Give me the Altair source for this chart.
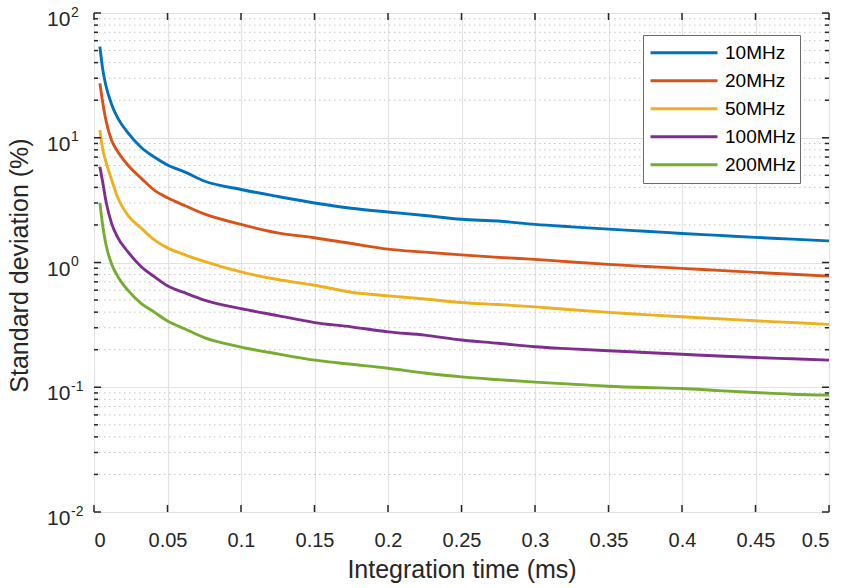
import altair as alt
import pandas as pd

# Integration time (ms) shared by every series
t_ms = [0.004, 0.006, 0.008, 0.012, 0.016, 0.023, 0.032, 0.041, 0.05, 0.062, 0.075,
        0.1, 0.125, 0.15, 0.175, 0.2, 0.225, 0.25, 0.275, 0.3, 0.325, 0.35, 0.375,
        0.4, 0.425, 0.45, 0.475, 0.5]

# Standard deviation (%) per sampling bandwidth
sd_10mhz = [53.7, 35, 26.5, 18.5, 14.5, 11.0, 8.4, 7.0, 6.05, 5.3, 4.5, 3.85, 3.38, 3.0,
            2.72, 2.54, 2.38, 2.22, 2.15, 2.02, 1.93, 1.85, 1.78, 1.71, 1.65, 1.59, 1.54, 1.49]
sd_20mhz = [27.3, 19.0, 14.0, 9.5, 7.8, 6.05, 4.75, 3.8, 3.3, 2.85, 2.45, 2.02, 1.73, 1.58,
            1.42, 1.28, 1.21, 1.15, 1.10, 1.06, 1.01, 0.966, 0.93, 0.898, 0.865, 0.834, 0.805, 0.778]
sd_50mhz = [11.5, 8.0, 6.5, 4.6, 3.35, 2.4, 1.89, 1.52, 1.31, 1.15, 1.02, 0.84, 0.73, 0.657,
            0.578, 0.54, 0.51, 0.478, 0.46, 0.441, 0.418, 0.398, 0.382, 0.367, 0.354, 0.341, 0.33, 0.319]
sd_100mhz = [5.85, 4.35, 3.15, 2.05, 1.6, 1.22, 0.93, 0.77, 0.65, 0.57, 0.50, 0.427, 0.375, 0.33,
             0.305, 0.278, 0.262, 0.239, 0.225, 0.211, 0.203, 0.196, 0.19, 0.184, 0.178, 0.173, 0.169, 0.165]
sd_200mhz = [3.01, 1.95, 1.42, 0.97, 0.78, 0.60, 0.47, 0.40, 0.34, 0.293, 0.25, 0.21, 0.185, 0.165,
             0.153, 0.142, 0.130, 0.121, 0.115, 0.110, 0.106, 0.102, 0.0995, 0.0978, 0.094, 0.0908, 0.088, 0.0864]

series_names = ["10MHz", "20MHz", "50MHz", "100MHz", "200MHz"]
series_values = [sd_10mhz, sd_20mhz, sd_50mhz, sd_100mhz, sd_200mhz]
series_colors = ["#0072BD", "#D95319", "#EDB120", "#7E2F8E", "#77AC30"]

# Axis ticks
x_ticks = [0, 0.05, 0.1, 0.15, 0.2, 0.25, 0.3, 0.35, 0.4, 0.45, 0.5]
y_decades = [0.01, 0.1, 1, 10, 100]
y_exponents = ["-2", "-1", "0", "1", "2"]
y_minor = [m * d for d in [0.01, 0.1, 1, 10] for m in range(2, 10)]

FONT = "Liberation Sans"
INK = "#262626"
W, H = 735, 499

rows = []
for name, vals in zip(series_names, series_values):
    for t, v in zip(t_ms, vals):
        rows.append({"t": t, "sd": v, "series": name})
df = pd.DataFrame(rows)

major_y = pd.DataFrame({"sd": y_decades, "base": ["10"] * len(y_decades), "exp": y_exponents})
minor_y = pd.DataFrame({"sd": y_minor})
major_x = pd.DataFrame({"t": x_ticks})

x_scale = alt.Scale(domain=[0, 0.5], nice=False, zero=False)
y_scale = alt.Scale(type="log", domain=[0.01, 100], nice=False)

minor_grid = alt.Chart(minor_y).mark_rule(
    color="#c4c4c4", strokeWidth=1, strokeDash=[1.5, 3.5]
).encode(y=alt.Y("sd:Q", scale=y_scale), x=alt.value(0), x2=alt.value(W))

lines = alt.Chart(df).mark_line(strokeWidth=2.9, clip=True, interpolate="monotone").encode(
    x=alt.X("t:Q", scale=x_scale,
            axis=alt.Axis(values=x_ticks, grid=True, gridColor="#e2e2e2", gridWidth=1.2,
                          ticks=False, domain=False,
                          labelExpr="format(datum.value, '~g')", labelFontSize=20,
                          labelFont=FONT, labelColor=INK, labelPadding=18,
                          title="Integration time (ms)", titleFontSize=25, titleFont=FONT,
                          titleFontWeight="normal", titleColor=INK,
                          titleY=65, titleBaseline="alphabetic")),
    y=alt.Y("sd:Q", scale=y_scale,
            axis=alt.Axis(values=y_decades, grid=True, gridColor="#e2e2e2", gridWidth=1.2,
                          ticks=False, domain=False, labels=False,
                          title="Standard deviation (%)", titleFontSize=25, titleFont=FONT,
                          titleFontWeight="normal", titleColor=INK,
                          titleX=-67, titleY=252, titleBaseline="alphabetic")),
    color=alt.Color("series:N", sort=series_names,
                    scale=alt.Scale(domain=series_names, range=series_colors),
                    legend=alt.Legend(title=None, orient="none", legendX=549, legendY=22,
                                      direction="vertical", symbolType="stroke",
                                      symbolSize=4489, symbolStrokeWidth=3,
                                      clipHeight=27.6, rowPadding=0,
                                      labelFontSize=19, labelFont=FONT, labelColor="#000000",
                                      labelOffset=6, padding=4, symbolOffset=2,
                                      fillColor="white", strokeColor="#6a6a6a")),
    order="t:Q",
)

def tick_layer(data, enc):
    return alt.Chart(data).mark_rule(color=INK, strokeWidth=1.5).encode(**enc)

ticks = [
    tick_layer(major_y, dict(y=alt.Y("sd:Q", scale=y_scale), x=alt.value(0), x2=alt.value(7))),
    tick_layer(major_y, dict(y=alt.Y("sd:Q", scale=y_scale), x=alt.value(W - 7), x2=alt.value(W))),
    tick_layer(minor_y, dict(y=alt.Y("sd:Q", scale=y_scale), x=alt.value(0), x2=alt.value(4))),
    tick_layer(minor_y, dict(y=alt.Y("sd:Q", scale=y_scale), x=alt.value(W - 4), x2=alt.value(W))),
    tick_layer(major_x, dict(x=alt.X("t:Q", scale=x_scale), y=alt.value(H), y2=alt.value(H - 7))),
    tick_layer(major_x, dict(x=alt.X("t:Q", scale=x_scale), y=alt.value(0), y2=alt.value(7))),
]

y_base = alt.Chart(major_y).mark_text(
    align="left", baseline="alphabetic", dy=13, fontSize=21, font=FONT, color=INK
).encode(y=alt.Y("sd:Q", scale=y_scale), x=alt.value(-47), text="base:N")

y_exp = alt.Chart(major_y).mark_text(
    align="left", baseline="alphabetic", dy=3.5, fontSize=14, font=FONT, color=INK
).encode(y=alt.Y("sd:Q", scale=y_scale), x=alt.value(-23), text="exp:N")

chart = alt.layer(minor_grid, lines, *ticks, y_base, y_exp).properties(
    width=W, height=H,
    autosize=alt.AutoSizeParams(type="none"),
    padding={"left": 94, "top": 13, "right": 16, "bottom": 76},
    background="white",
).configure_view(stroke=INK, strokeWidth=1.8).configure(font=FONT)

chart.save("out.html", embed_options={"renderer": "svg", "actions": False})
